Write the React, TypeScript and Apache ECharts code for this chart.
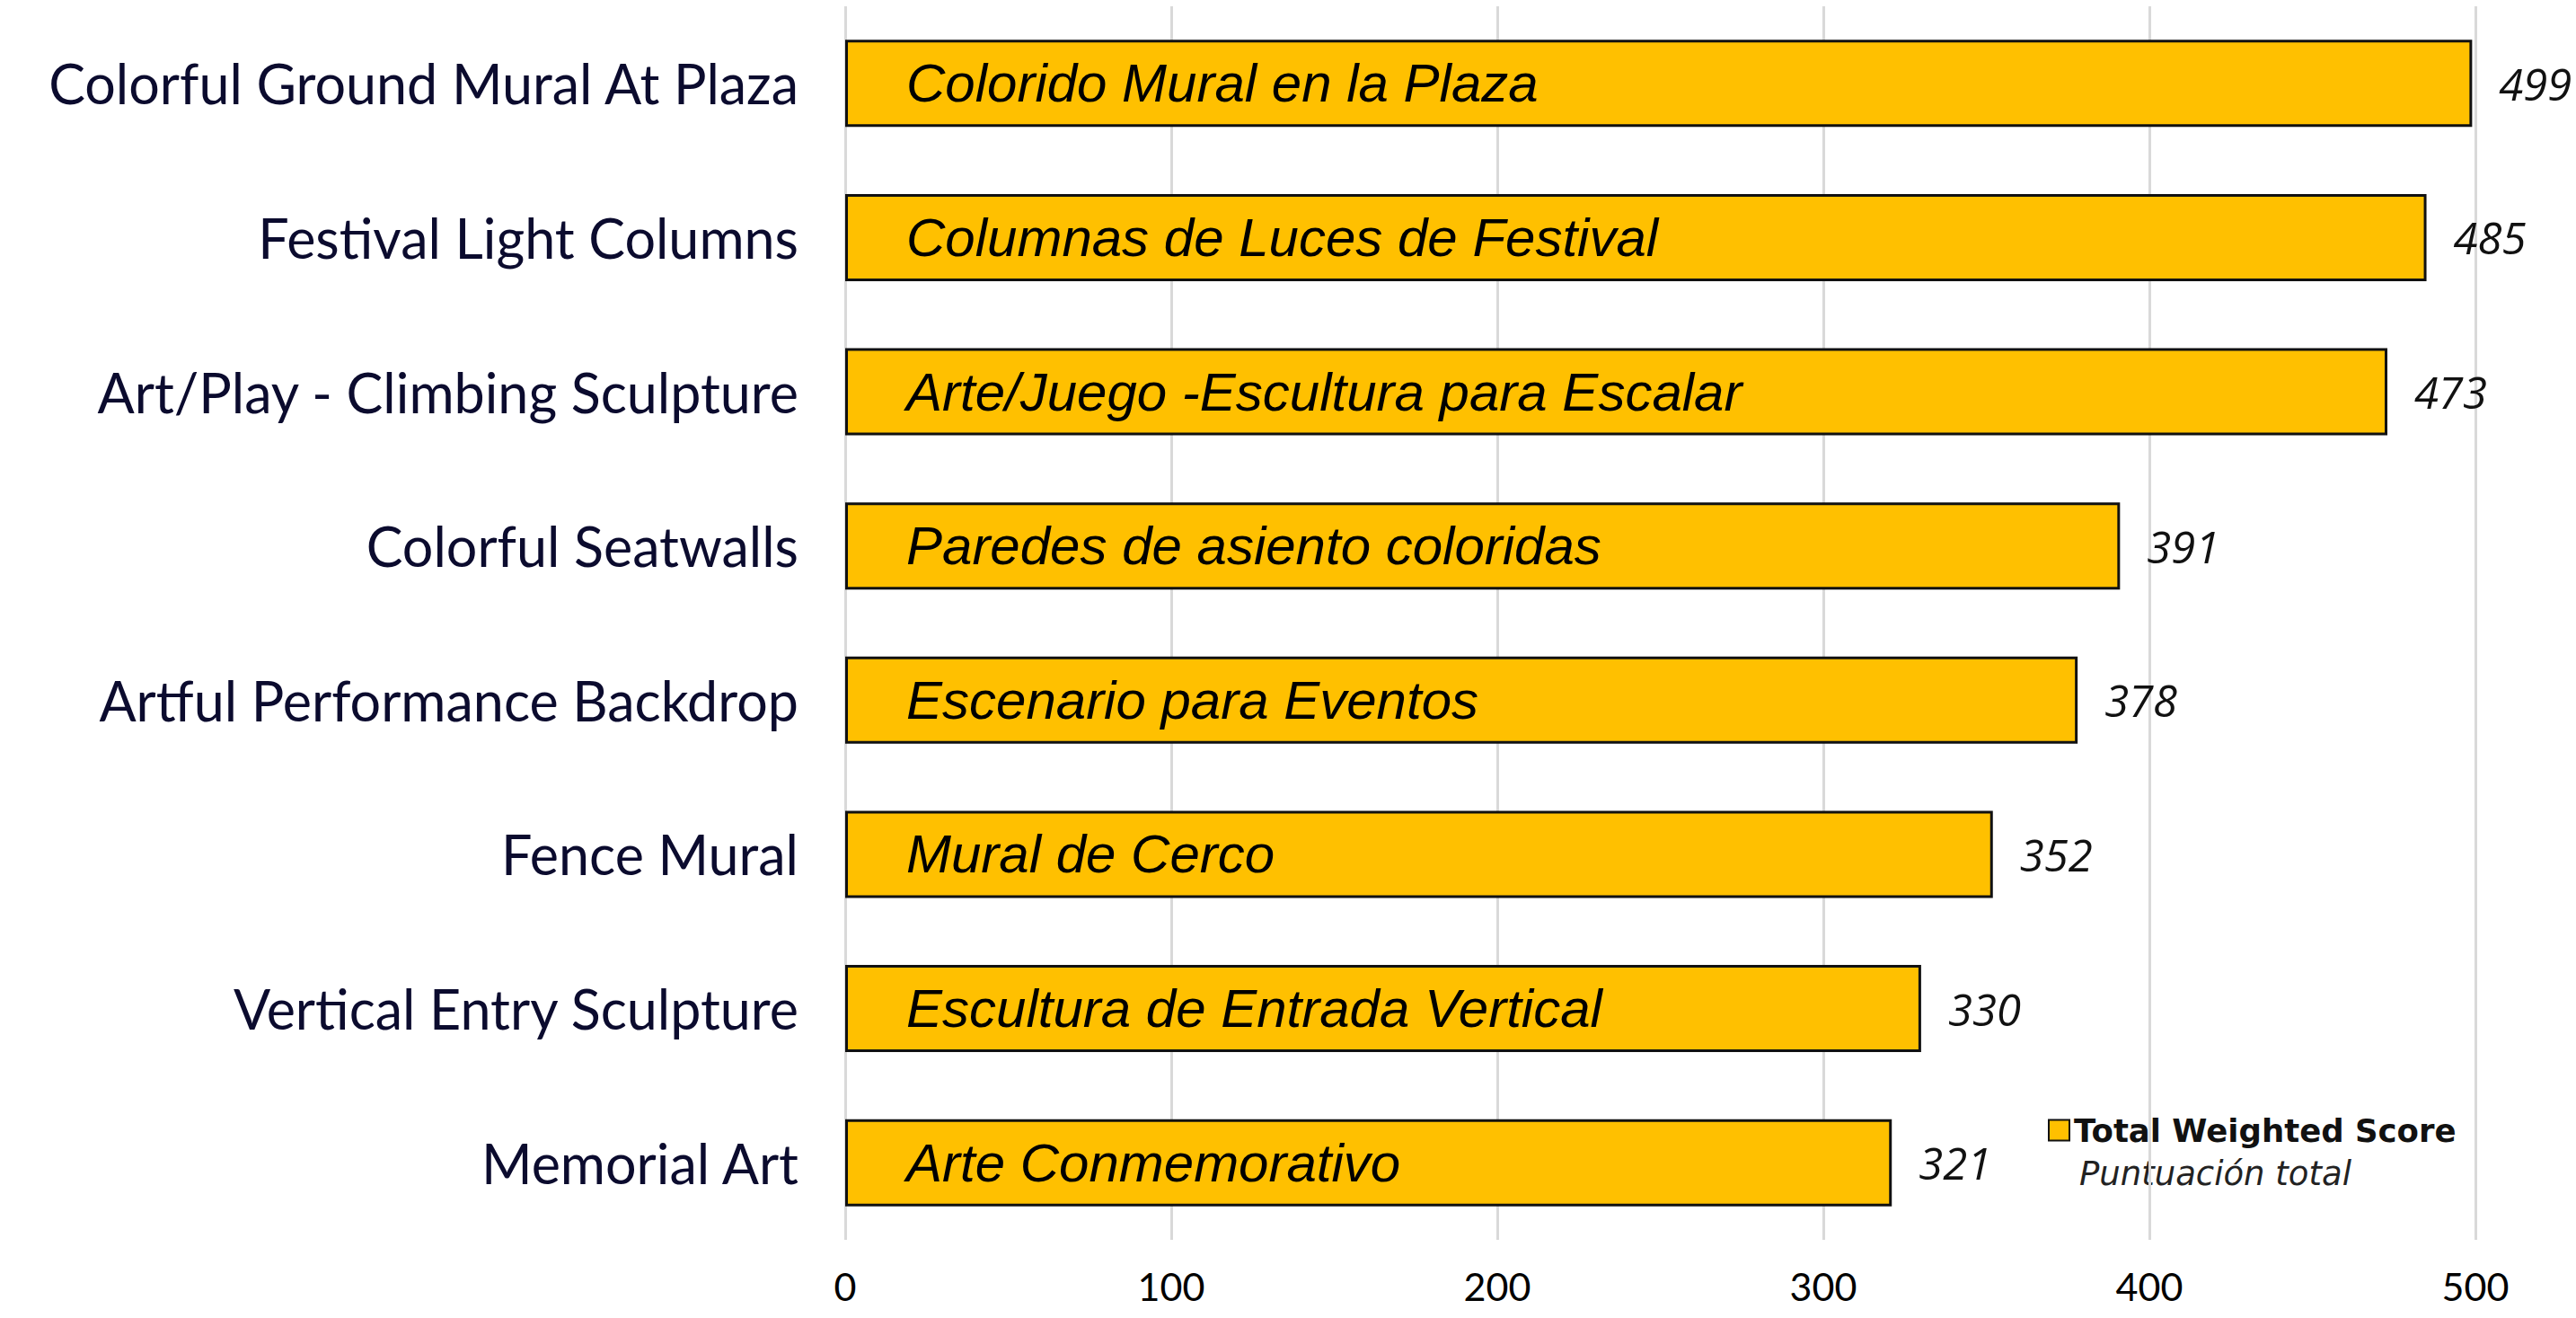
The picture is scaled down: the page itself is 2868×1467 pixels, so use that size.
import React, { useEffect, useRef } from "react";
import * as echarts from "echarts";

const categories = [
  "Colorful Ground Mural At Plaza",
  "Festival Light Columns",
  "Art/Play - Climbing Sculpture",
  "Colorful Seatwalls",
  "Artful Performance Backdrop",
  "Fence Mural",
  "Vertical Entry Sculpture",
  "Memorial Art",
];

const spanishLabels = [
  "Colorido Mural en la Plaza",
  "Columnas de Luces de Festival",
  "Arte/Juego -Escultura para Escalar",
  "Paredes de asiento coloridas",
  "Escenario para Eventos",
  "Mural de Cerco",
  "Escultura de Entrada Vertical",
  "Arte Conmemorativo",
];

const scores = [499, 485, 473, 391, 378, 352, 330, 321];

const seriesName = "Total Weighted Score";
const seriesSubtitle = "Puntuación total";

const xMin = 0;
const xMax = 500;
const xInterval = 100;

export default function App() {
  const ref = useRef<HTMLDivElement>(null);

  useEffect(() => {
    if (!ref.current) return;
    const chart = echarts.init(ref.current, null, { renderer: "svg" });
    chart.setOption({
      animation: false,
      backgroundColor: "#ffffff",
      grid: { left: 941, right: 112, top: 7, bottom: 87 },
      xAxis: {
        type: "value",
        min: xMin,
        max: xMax,
        interval: xInterval,
        axisLine: { show: false },
        axisTick: { show: false },
        splitLine: { show: true, lineStyle: { color: "#d9d9d9", width: 3 } },
        axisLabel: {
          margin: 30,
          fontFamily: "Lato",
          fontSize: 43,
          color: "#000000",
        },
      },
      yAxis: {
        type: "category",
        data: categories,
        inverse: true,
        axisLine: { show: false },
        axisTick: { show: false },
        axisLabel: {
          margin: 52,
          fontFamily: "Lato",
          fontSize: 61,
          color: "#0b0b2e",
        },
      },
      legend: {
        data: [seriesName],
        left: 2280,
        top: 1240,
        padding: 0,
        icon: "rect",
        itemWidth: 23,
        itemHeight: 23,
        itemGap: 10,
        textStyle: {
          fontFamily: "DejaVu Sans",
          fontWeight: "bold",
          fontSize: 35.5,
          lineHeight: 30,
          color: "#111111",
          padding: [0, 0, 0, 0],
        },
      },
      graphic: [
        {
          type: "text",
          left: 2315,
          top: 1288,
          style: {
            text: seriesSubtitle,
            fontFamily: "DejaVu Sans",
            fontStyle: "italic",
            fontSize: 37,
            fill: "#222222",
          },
        },
      ],
      series: [
        {
          name: seriesName,
          type: "bar",
          data: scores,
          barWidth: 97,
          itemStyle: { color: "#FFC000", borderColor: "#111111", borderWidth: 3 },
          label: {
            show: true,
            position: "insideLeft",
            distance: 68,
            fontFamily: "Liberation Sans",
            fontStyle: "italic",
            fontSize: 60,
            color: "#000000",
            formatter: (p: any) => spanishLabels[p.dataIndex],
          },
        },
        {
          name: "values",
          type: "bar",
          data: scores,
          barWidth: 97,
          barGap: "-100%",
          silent: true,
          itemStyle: { color: "rgba(0,0,0,0)" },
          label: {
            show: true,
            position: "right",
            distance: 30,
            fontFamily: "Open Sans",
            fontStyle: "italic",
            fontSize: 49,
            color: "#111111",
            formatter: "{c}",
          },
          z: 3,
        },
      ],
    });
    return () => chart.dispose();
  }, []);

  return (
    <div
      ref={ref}
      style={{ position: "absolute", left: 0, top: 0, width: 2868, height: 1467 }}
    />
  );
}
